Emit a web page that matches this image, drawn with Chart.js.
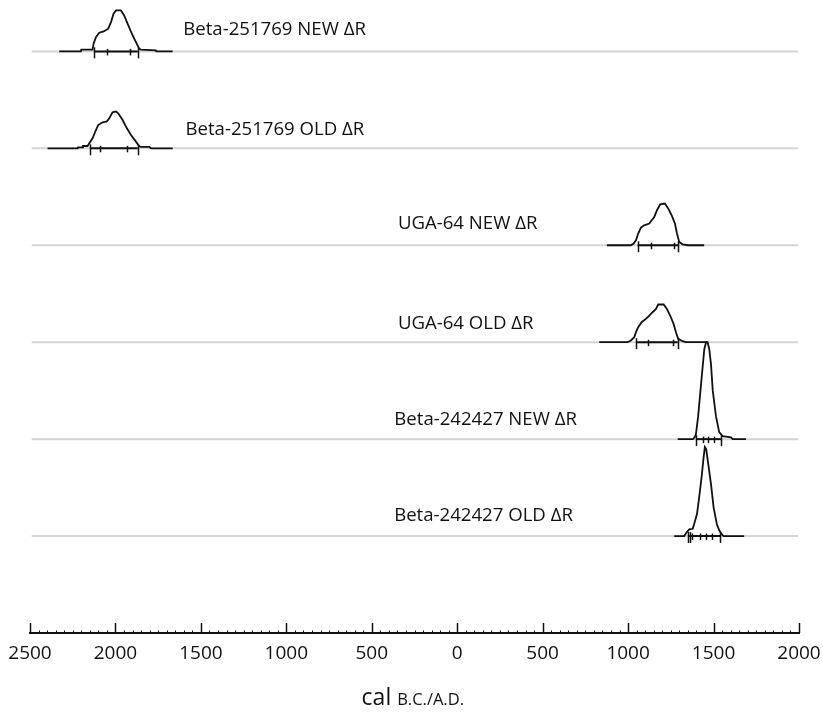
<!DOCTYPE html>
<html>
<head>
<meta charset="utf-8">
<title>cal B.C./A.D.</title>
<style>
  html, body { margin: 0; padding: 0; background: #fff; }
  #wrap { width: 823px; height: 714px; }
</style>
</head>
<body>
<div id="wrap"><canvas id="chart" width="823" height="714"></canvas></div>
<script src="https://cdn.jsdelivr.net/npm/chart.js@4.4.1/dist/chart.umd.min.js"></script>
<script>
// sample names, top to bottom
const sampleNames = [
    "Beta-251769 NEW ΔR",
    "Beta-251769 OLD ΔR",
    "UGA-64 NEW ΔR",
    "UGA-64 OLD ΔR",
    "Beta-242427 NEW ΔR",
    "Beta-242427 OLD ΔR"
];

// calendar years (B.C. negative) and relative probability (1 = row spacing)
const beta251769NewYears = [-2329, -2202, -2200, -2134, -2128, -2114, -2095, -2069, -2042, -2026, -2011, -1997, -1968, -1949, -1929, -1904, -1880, -1861, -1851, -1763, -1761, -1665];
const beta251769NewProb  = [0, 0, 0.018, 0.018, 0.079, 0.147, 0.193, 0.206, 0.234, 0.302, 0.389, 0.423, 0.423, 0.371, 0.286, 0.182, 0.096, 0.028, 0.018, 0.010, 0, 0];

const beta251769OldYears = [-2397, -2221, -2219, -2192, -2190, -2163, -2153, -2134, -2114, -2101, -2075, -2050, -2036, -2017, -1997, -1984, -1958, -1933, -1909, -1880, -1861, -1851, -1802, -1792, -1665];
const beta251769OldProb  = [0, 0, 0.010, 0.010, 0.024, 0.024, 0.052, 0.103, 0.189, 0.240, 0.268, 0.278, 0.309, 0.371, 0.381, 0.361, 0.292, 0.206, 0.137, 0.069, 0.021, 0.015, 0.015, 0, 0];

const uga64NewYears = [876, 1016, 1032, 1046, 1059, 1075, 1094, 1124, 1138, 1153, 1169, 1188, 1215, 1235, 1255, 1274, 1286, 1299, 1319, 1348, 1445];
const uga64NewProb  = [0, 0, 0.018, 0.052, 0.121, 0.182, 0.206, 0.224, 0.258, 0.292, 0.361, 0.423, 0.430, 0.378, 0.309, 0.224, 0.121, 0.034, 0.010, 0, 0];

const uga64OldYears = [831, 997, 1016, 1036, 1046, 1059, 1079, 1104, 1124, 1143, 1163, 1176, 1208, 1227, 1246, 1266, 1280, 1293, 1319, 1338, 1461];
const uga64OldProb  = [0, 0, 0.018, 0.052, 0.103, 0.155, 0.206, 0.240, 0.275, 0.309, 0.343, 0.389, 0.389, 0.343, 0.275, 0.189, 0.103, 0.034, 0.010, 0, 0];

const beta242427NewYears = [1290, 1380, 1390, 1397, 1410, 1422, 1436, 1446, 1456, 1465, 1475, 1485, 1495, 1514, 1533, 1553, 1602, 1612, 1690];
const beta242427NewProb  = [0, 0, 0.021, 0.052, 0.237, 0.474, 0.742, 0.928, 1.0, 1.0, 0.928, 0.773, 0.505, 0.237, 0.072, 0.031, 0.018, 0, 0];

const beta242427OldYears = [1270, 1328, 1344, 1358, 1378, 1387, 1403, 1416, 1430, 1442, 1449, 1457, 1469, 1485, 1500, 1519, 1533, 1553, 1560, 1679];
const beta242427OldProb  = [0, 0, 0.041, 0.069, 0.075, 0.127, 0.227, 0.402, 0.608, 0.814, 0.918, 0.897, 0.742, 0.536, 0.299, 0.124, 0.059, 0.007, 0, 0];

// range bars: long ticks and short ticks, in calendar years
const outerTicks = [
    [-2124, -1870],
    [-2149, -1870],
    [1056, 1293],
    [1046, 1290],
    [1397, 1543],
    [1352, 1363, 1539]
];
const innerTicks = [
    [-2050, -1914],
    [-2091, -1935],
    [1133, 1266],
    [1118, 1260],
    [1436, 1465, 1500],
    [1373, 1422, 1456, 1489]
];

// axis
const xMin = -2500;
const xMax = 2000;
const xTickStep = 50;
const xLabelStep = 500;

// layout of the text (not data)
const rowBase = [6, 5, 4, 3, 2, 1];
const labelLeftYear = [-1603, -1590, -347, -347, -368, -369];
const labelRise = [16, 13, 16, 13, 14, 15];
const titleCenterYear = -260;

const years = [beta251769NewYears, beta251769OldYears, uga64NewYears, uga64OldYears, beta242427NewYears, beta242427OldYears];
const probs = [beta251769NewProb, beta251769OldProb, uga64NewProb, uga64OldProb, beta242427NewProb, beta242427OldProb];

const FONT = '"Open Sans", "Noto Sans", sans-serif';

const curveSets = years.map((yrs, i) => ({
    data: yrs.map((x, j) => ({ x, y: rowBase[i] + probs[i][j] })),
    borderColor: "#111",
    borderWidth: 1.8,
    pointRadius: 0,
    tension: 0,
    order: 1
}));

const baseSets = rowBase.map(b => ({
    data: [{ x: xMin + 10, y: b }, { x: xMax - 5, y: b }],
    borderColor: "#d4d4d4",
    borderWidth: 2,
    pointRadius: 0,
    order: 3
}));

// range bars drawn on the baselines
const rangeBars = {
    id: "rangeBars",
    afterDatasetsDraw(chart) {
        const { ctx, scales: { x, y } } = chart;
        ctx.save();
        ctx.strokeStyle = "#111";
        rowBase.forEach((b, i) => {
            const py = y.getPixelForValue(b);
            const all = outerTicks[i].concat(innerTicks[i]);
            ctx.lineWidth = 2;
            ctx.beginPath();
            ctx.moveTo(x.getPixelForValue(Math.min(...all)), py);
            ctx.lineTo(x.getPixelForValue(Math.max(...all)), py);
            ctx.stroke();
            ctx.lineWidth = 1.5;
            outerTicks[i].forEach(v => {
                const px = Math.round(x.getPixelForValue(v)) + 0.5;
                ctx.beginPath();
                ctx.moveTo(px, py - 4);
                ctx.lineTo(px, py + 7);
                ctx.stroke();
            });
            innerTicks[i].forEach(v => {
                const px = Math.round(x.getPixelForValue(v)) + 0.5;
                ctx.beginPath();
                ctx.moveTo(px, py - 2.5);
                ctx.lineTo(px, py + 4);
                ctx.stroke();
            });
        });
        ctx.restore();
    }
};

const rowLabels = {
    id: "rowLabels",
    afterDraw(chart) {
        const { ctx, scales: { x, y } } = chart;
        ctx.save();
        ctx.font = "18.6px " + FONT;
        ctx.fillStyle = "#111";
        ctx.textAlign = "left";
        ctx.textBaseline = "alphabetic";
        sampleNames.forEach((name, i) => {
            ctx.fillText(name, x.getPixelForValue(labelLeftYear[i]), y.getPixelForValue(rowBase[i]) - labelRise[i]);
        });
        ctx.restore();
    }
};

// upward tick marks and the small caps axis title
const axisDecor = {
    id: "axisDecor",
    afterDraw(chart) {
        const { ctx, scales: { x } } = chart;
        const top = x.top;
        ctx.save();
        ctx.strokeStyle = "#111";
        x.ticks.forEach(t => {
            const major = t.value % xLabelStep === 0;
            const px = Math.round(x.getPixelForValue(t.value)) + 0.5;
            ctx.lineWidth = major ? 1.5 : 1;
            ctx.beginPath();
            ctx.moveTo(px, top);
            ctx.lineTo(px, top - (major ? 10 : 2.5));
            ctx.stroke();
        });

        const a = "cal ";
        const b = "B.C./A.D.";
        ctx.fillStyle = "#111";
        ctx.textBaseline = "alphabetic";
        ctx.font = "23px " + FONT;
        const wa = ctx.measureText(a).width;
        ctx.font = "16.5px " + FONT;
        const wb = ctx.measureText(b).width;
        const left = x.getPixelForValue(titleCenterYear) - (wa + wb) / 2;
        const base = top + 72;
        ctx.font = "23px " + FONT;
        ctx.fillText(a, left, base);
        ctx.font = "16.5px " + FONT;
        ctx.fillText(b, left + wa, base);
        ctx.restore();
    }
};

function draw() {
    const context = document.getElementById("chart").getContext("2d");
    new Chart(context, {
        type: "line",
        data: { datasets: curveSets.concat(baseSets) },
        options: {
            responsive: false,
            animation: false,
            events: [],
            layout: { padding: { left: 30, right: 24, top: 0, bottom: 0 } },
            plugins: {
                legend: { display: false },
                tooltip: { enabled: false }
            },
            scales: {
                x: {
                    type: "linear",
                    min: xMin,
                    max: xMax,
                    afterFit(scale) {
                        scale.height = 81;
                        scale.paddingLeft = 0;
                        scale.paddingRight = 0;
                    },
                    grid: { display: false, drawTicks: false },
                    border: { display: true, color: "#111", width: 2 },
                    ticks: {
                        stepSize: xTickStep,
                        maxTicksLimit: 200,
                        autoSkip: false,
                        maxRotation: 0,
                        padding: 9,
                        color: "#111",
                        font: { family: FONT, size: 19 },
                        callback: v => (v % xLabelStep === 0 ? String(Math.abs(v)) : "")
                    }
                },
                y: {
                    type: "linear",
                    display: false,
                    min: 0,
                    max: 6.53
                }
            }
        },
        plugins: [rangeBars, rowLabels, axisDecor]
    });
}

if (document.fonts && document.fonts.load) {
    Promise.all([
        document.fonts.load('18px "Open Sans"'),
        document.fonts.load('23px "Open Sans"')
    ]).then(draw, draw);
} else {
    draw();
}
</script>
</body>
</html>
